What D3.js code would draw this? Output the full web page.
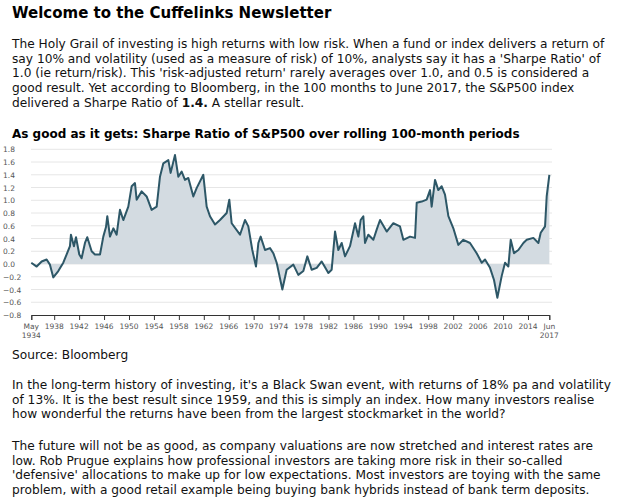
<!DOCTYPE html>
<html><head><meta charset="utf-8">
<script src="https://cdn.jsdelivr.net/npm/d3@7"></script>
<style>body{margin:0;background:#fff}</style>
</head><body>
<script>
const YEARS = [1934.33,1935.19,1935.99,1936.79,1937.32,1937.86,1938.66,1939.46,1940.0,1940.53,1940.69,1941.17,1941.5,1942.03,1942.4,1942.94,1943.31,1944.01,1944.54,1945.35,1945.88,1946.31,1946.52,1946.95,1947.49,1948.02,1948.55,1949.09,1949.89,1950.43,1950.96,1951.23,1952.03,1952.83,1953.63,1954.44,1954.97,1955.51,1956.31,1956.68,1957.38,1957.91,1958.45,1958.98,1959.52,1960.32,1960.85,1961.92,1962.46,1962.99,1963.8,1964.6,1965.67,1966.09,1966.47,1967.81,1968.61,1969.14,1969.78,1970.37,1970.75,1971.12,1971.82,1972.62,1973.15,1973.69,1974.6,1975.29,1976.36,1977.16,1977.97,1978.61,1979.3,1980.11,1980.91,1981.98,1982.51,1983.05,1983.58,1984.12,1984.65,1985.45,1986.26,1986.79,1987.16,1987.59,1987.86,1988.39,1989.2,1989.73,1990.27,1991.34,1992.4,1993.47,1994.01,1995.08,1995.88,1996.15,1996.95,1997.75,1998.29,1998.55,1999.09,1999.62,2000.16,2000.69,2001.23,2002.03,2002.83,2003.63,2004.7,2005.77,2006.58,2007.11,2007.91,2008.55,2009.09,2009.78,2010.32,2010.85,2011.23,2011.76,2012.46,2013.26,2013.8,2014.86,2015.67,2016.04,2016.74,2017.0,2017.43];
const SHARPE = [0.02,-0.04,0.04,0.07,-0.01,-0.21,-0.11,0.02,0.15,0.28,0.46,0.28,0.42,0.15,0.09,0.33,0.42,0.2,0.15,0.15,0.43,0.58,0.75,0.43,0.56,0.46,0.85,0.69,0.9,1.22,1.27,1.01,1.14,1.06,0.85,0.9,1.37,1.58,1.63,1.43,1.71,1.37,1.45,1.32,1.35,1.06,1.19,1.4,0.9,0.75,0.62,0.69,0.8,1.01,0.64,0.46,0.69,0.59,0.22,-0.04,0.33,0.43,0.22,0.25,0.17,0.02,-0.4,-0.09,-0.01,-0.17,-0.11,0.12,-0.09,-0.06,0.04,-0.14,-0.09,0.51,0.22,0.33,0.12,0.28,0.64,0.43,0.69,0.75,0.33,0.46,0.38,0.54,0.69,0.51,0.64,0.59,0.38,0.43,0.41,0.96,0.98,1.01,1.16,0.9,1.32,1.16,1.22,1.09,0.75,0.56,0.3,0.38,0.33,0.17,0.02,0.07,-0.06,-0.25,-0.53,-0.19,0.02,-0.04,0.38,0.17,0.22,0.33,0.38,0.41,0.33,0.49,0.59,1.06,1.4];
const Y_TICKS = [-0.8,-0.6,-0.4,-0.2,0,0.2,0.4,0.6,0.8,1.0,1.2,1.4,1.6,1.8];
const X_TICKS = [1938,1942,1946,1950,1954,1958,1962,1966,1970,1974,1978,1982,1986,1990,1994,1998,2002,2006,2010,2014];
const X_START = 1934.33, X_END = 2017.42;

const PARA1 = [
  "The Holy Grail of investing is high returns with low risk. When a fund or index delivers a return of",
  "say 10% and volatility (used as a measure of risk) of 10%, analysts say it has a 'Sharpe Ratio' of",
  "1.0 (ie return/risk). This 'risk-adjusted return' rarely averages over 1.0, and 0.5 is considered a",
  "good result. Yet according to Bloomberg, in the 100 months to June 2017, the S&P500 index"
];
const PARA2 = [
  "In the long-term history of investing, it's a Black Swan event, with returns of 18% pa and volatility",
  "of 13%. It is the best result since 1959, and this is simply an index. How many investors realise",
  "how wonderful the returns have been from the largest stockmarket in the world?"
];
const PARA3 = [
  "The future will not be as good, as company valuations are now stretched and interest rates are",
  "low. Rob Prugue explains how professional investors are taking more risk in their so-called",
  "'defensive' allocations to make up for low expectations. Most investors are toying with the same",
  "problem, with a good retail example being buying bank hybrids instead of bank term deposits."
];

const FONT = "'DejaVu Sans', Verdana, sans-serif";
const LH = 14.7;
const svg = d3.select("body").append("svg").attr("width", 622).attr("height", 504)
  .style("font-family", FONT);

svg.append("text").attr("x", 12).attr("y", 18).style("font-size", "15px").style("font-weight", "bold")
  .text("Welcome to the Cuffelinks Newsletter");

function para(lines, y0) {
  const t = svg.append("text").style("font-size", "12.2px").attr("fill", "#111");
  lines.forEach((l, i) => t.append("tspan").attr("x", 12).attr("y", y0 + i * LH).text(l));
  return t;
}
para(PARA1, 48);
const last = svg.append("text").attr("x", 12).attr("y", 48 + 4 * LH).style("font-size", "12.2px").attr("fill", "#111");
last.append("tspan").text("delivered a Sharpe Ratio of ");
last.append("tspan").style("font-weight", "bold").text("1.4.");
last.append("tspan").text(" A stellar result.");

svg.append("text").attr("x", 12).attr("y", 138).style("font-size", "12px").style("font-weight", "bold")
  .text("As good as it gets: Sharpe Ratio of S&P500 over rolling 100-month periods");

const x = d3.scaleLinear().domain([X_START, X_END]).range([31.3, 549.3]);
const y = d3.scaleLinear().domain([-0.8, 1.8]).range([315, 149.3]);

svg.append("g").selectAll("line").data(Y_TICKS.filter(d => d > -0.8)).enter().append("line")
  .attr("x1", 31).attr("x2", 552).attr("y1", d => y(d)).attr("y2", d => y(d))
  .attr("stroke", "#e6e6e6").attr("stroke-width", 1);

svg.append("g").selectAll("text").data(Y_TICKS).enter().append("text")
  .attr("x", 3).attr("y", d => y(d) + 3).style("font-size", "7.5px").attr("fill", "#555")
  .text(d => d3.format(".1f")(d));

const pts = YEARS.map((yr, i) => [yr, SHARPE[i]]);
svg.append("path").datum(pts)
  .attr("d", d3.area().x(d => x(d[0])).y0(y(0)).y1(d => y(d[1])))
  .attr("fill", "#d3dbe1");
svg.append("path").datum(pts)
  .attr("d", d3.line().x(d => x(d[0])).y(d => y(d[1])))
  .attr("fill", "none").attr("stroke", "#2d5767").attr("stroke-width", 2).attr("stroke-linejoin", "round");

const ax = svg.append("g").attr("transform", `translate(0,${y(-0.8)})`)
  .call(d3.axisBottom(x).tickValues([X_START, ...X_TICKS, X_END]).tickSize(5).tickFormat(""));
ax.select(".domain").attr("stroke", "#333");
ax.selectAll(".tick line").attr("stroke", "#333");

svg.append("g").selectAll("text").data(X_TICKS).enter().append("text")
  .attr("x", d => x(d)).attr("y", y(-0.8) + 14).attr("text-anchor", "middle")
  .style("font-size", "7.5px").attr("fill", "#555").text(d => d);
[[X_START, "May", "1934"], [X_END, "Jun", "2017"]].forEach(([v, a, b]) => {
  const t = svg.append("text").attr("text-anchor", "middle").style("font-size", "7.5px").attr("fill", "#555");
  t.append("tspan").attr("x", x(v)).attr("y", y(-0.8) + 14).text(a);
  t.append("tspan").attr("x", x(v)).attr("y", y(-0.8) + 23).text(b);
});

svg.append("text").attr("x", 12).attr("y", 359).style("font-size", "12.2px").attr("fill", "#111")
  .text("Source: Bloomberg");
para(PARA2, 389);
para(PARA3, 450);
</script>
</body></html>
